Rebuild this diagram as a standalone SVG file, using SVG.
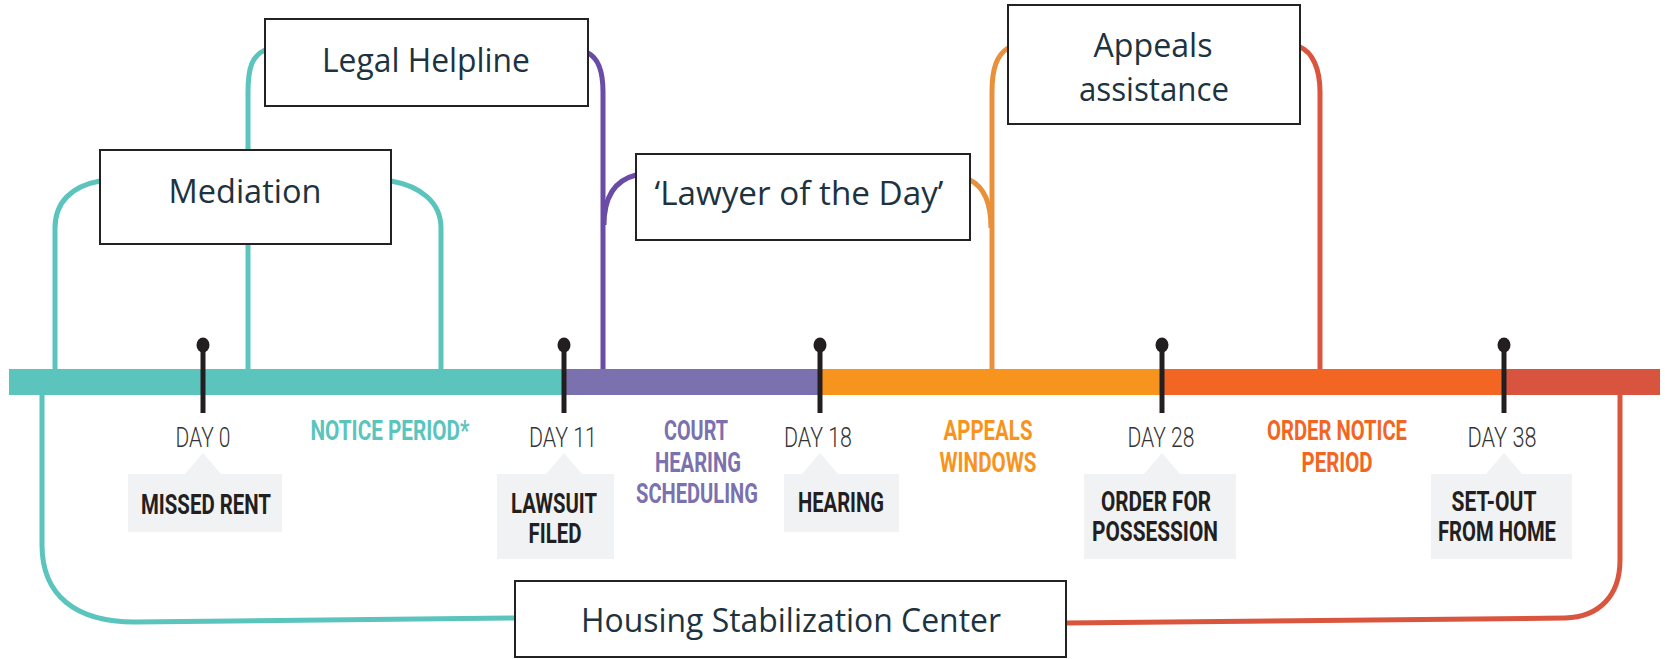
<svg xmlns="http://www.w3.org/2000/svg" width="1665" height="659" viewBox="0 0 1665 659">
<style>
.box{fill:#ffffff;stroke:#222222;stroke-width:2}
.bt{font-family:"Open Sans","Noto Sans",sans-serif;font-size:33px;fill:#1d3340;text-anchor:middle}
.con{fill:none;stroke-width:5;stroke-linecap:butt}
.teal{stroke:#5bc4bc}
.purp{stroke:#6a4ba5}
.oran{stroke:#e8913a}
.red{stroke:#d9553e}
.tick{stroke:#231f20;stroke-width:5}
.pin{fill:#231f20}
.day{font-family:Roboto,"Liberation Sans",sans-serif;font-weight:300;font-size:28px;fill:#333333;text-anchor:middle}
.ev{font-family:Roboto,"Liberation Sans",sans-serif;font-weight:700;font-size:27px;fill:#231f20;text-anchor:middle}
.per{font-family:Roboto,"Liberation Sans",sans-serif;font-weight:700;font-size:27px;text-anchor:middle}
.call{fill:#f1f2f4}
</style>

<g id="connectors">
  <path class="con teal" d="M100,181 C72,186 55,202 55,228 V369"/>
  <path class="con teal" d="M391,181 C420,186 441,202 441,228 V369"/>
  <path class="con teal" d="M248,369 V92 C248,68 252,56 265,50"/>
  <path class="con purp" d="M588,53 C598,58 603,72 603,92 V369"/>
  <path class="con purp" d="M636,175 C616,180 604,195 604,225"/>
  <path class="con oran" d="M992,369 V92 C992,68 997,55 1008,48"/>
  <path class="con oran" d="M970,180 C982,186 991,200 991,228"/>
  <path class="con red" d="M1300,47 C1312,52 1320,68 1320,92 V369"/>
  <path class="con teal" d="M42,395 V545 C42,595 75,622 135,622 L514,618"/>
  <path class="con red" d="M1066,623 L1565,618 C1600,617 1620,595 1620,560 V395"/>
</g>

<g id="timeline">
  <rect x="9" y="369" width="555" height="26" fill="#5bc5bd"/>
  <rect x="564" y="369" width="256" height="26" fill="#7a71ae"/>
  <rect x="820" y="369" width="342" height="26" fill="#f7941d"/>
  <rect x="1162" y="369" width="342" height="26" fill="#f26522"/>
  <rect x="1504" y="369" width="156" height="26" fill="#d9543e"/>
</g>

<g id="ticks">
  <line class="tick" x1="203" y1="345" x2="203" y2="413"/><ellipse class="pin" cx="203" cy="345" rx="6.5" ry="7.5"/>
  <line class="tick" x1="564" y1="345" x2="564" y2="413"/><ellipse class="pin" cx="564" cy="345" rx="6.5" ry="7.5"/>
  <line class="tick" x1="820" y1="345" x2="820" y2="413"/><ellipse class="pin" cx="820" cy="345" rx="6.5" ry="7.5"/>
  <line class="tick" x1="1162" y1="345" x2="1162" y2="413"/><ellipse class="pin" cx="1162" cy="345" rx="6.5" ry="7.5"/>
  <line class="tick" x1="1504" y1="345" x2="1504" y2="413"/><ellipse class="pin" cx="1504" cy="345" rx="6.5" ry="7.5"/>
  <text class="day" x="203" y="447" textLength="55" lengthAdjust="spacingAndGlyphs">DAY 0</text>
  <text class="day" x="563" y="447" textLength="68" lengthAdjust="spacingAndGlyphs">DAY 11</text>
  <text class="day" x="818" y="447" textLength="68" lengthAdjust="spacingAndGlyphs">DAY 18</text>
  <text class="day" x="1161" y="447" textLength="67" lengthAdjust="spacingAndGlyphs">DAY 28</text>
  <text class="day" x="1502" y="447" textLength="69" lengthAdjust="spacingAndGlyphs">DAY 38</text>
</g>

<g id="periods">
  <text class="per" fill="#5bc4bc" x="390" y="440" textLength="159" lengthAdjust="spacingAndGlyphs">NOTICE PERIOD*</text>
  <text class="per" fill="#7a71ae" x="696" y="440" textLength="64" lengthAdjust="spacingAndGlyphs">COURT</text>
  <text class="per" fill="#7a71ae" x="698" y="472" textLength="86" lengthAdjust="spacingAndGlyphs">HEARING</text>
  <text class="per" fill="#7a71ae" x="697" y="503" textLength="122" lengthAdjust="spacingAndGlyphs">SCHEDULING</text>
  <text class="per" fill="#f7941d" x="988" y="440" textLength="89" lengthAdjust="spacingAndGlyphs">APPEALS</text>
  <text class="per" fill="#f7941d" x="988" y="472" textLength="97" lengthAdjust="spacingAndGlyphs">WINDOWS</text>
  <text class="per" fill="#f26522" x="1337" y="440" textLength="140" lengthAdjust="spacingAndGlyphs">ORDER NOTICE</text>
  <text class="per" fill="#f26522" x="1337" y="472" textLength="71" lengthAdjust="spacingAndGlyphs">PERIOD</text>
</g>

<g id="missed-rent">
  <path class="call" d="M128,474 H185 L203,453 L221,474 H282 V532 H128 Z"/>
  <text class="ev" x="206" y="514" textLength="130" lengthAdjust="spacingAndGlyphs">MISSED RENT</text>
</g>
<g id="lawsuit-filed">
  <path class="call" d="M497,474 H546 L564,453 L582,474 H614 V559 H497 Z"/>
  <text class="ev" x="554" y="513" textLength="86" lengthAdjust="spacingAndGlyphs">LAWSUIT</text>
  <text class="ev" x="555" y="543" textLength="53" lengthAdjust="spacingAndGlyphs">FILED</text>
</g>
<g id="hearing">
  <path class="call" d="M784,474 H802 L820,453 L838,474 H899 V532 H784 Z"/>
  <text class="ev" x="841" y="512" textLength="86" lengthAdjust="spacingAndGlyphs">HEARING</text>
</g>
<g id="order-for-possession">
  <path class="call" d="M1084,474 H1144 L1162,453 L1180,474 H1236 V559 H1084 Z"/>
  <text class="ev" x="1156" y="511" textLength="110" lengthAdjust="spacingAndGlyphs">ORDER FOR</text>
  <text class="ev" x="1155" y="541" textLength="126" lengthAdjust="spacingAndGlyphs">POSSESSION</text>
</g>
<g id="set-out">
  <path class="call" d="M1431,474 H1486 L1504,453 L1522,474 H1572 V559 H1431 Z"/>
  <text class="ev" x="1494" y="511" textLength="85" lengthAdjust="spacingAndGlyphs">SET-OUT</text>
  <text class="ev" x="1497" y="541" textLength="118" lengthAdjust="spacingAndGlyphs">FROM HOME</text>
</g>

<g id="legal-helpline">
  <rect class="box" x="265" y="19" width="323" height="87"/>
  <text class="bt" x="426" y="72" textLength="208" lengthAdjust="spacingAndGlyphs">Legal Helpline</text>
</g>
<g id="mediation">
  <rect class="box" x="100" y="150" width="291" height="94"/>
  <text class="bt" x="245" y="203" textLength="153" lengthAdjust="spacingAndGlyphs">Mediation</text>
</g>
<g id="lawyer-of-the-day">
  <rect class="box" x="636" y="154" width="334" height="86"/>
  <text class="bt" x="799" y="205" textLength="289" lengthAdjust="spacingAndGlyphs">‘Lawyer of the Day’</text>
</g>
<g id="appeals-assistance">
  <rect class="box" x="1008" y="5" width="292" height="119"/>
  <text class="bt" x="1153" y="57" textLength="119" lengthAdjust="spacingAndGlyphs">Appeals</text>
  <text class="bt" x="1154" y="101" textLength="150" lengthAdjust="spacingAndGlyphs">assistance</text>
</g>
<g id="housing-stabilization-center">
  <rect class="box" x="515" y="581" width="551" height="76"/>
  <text class="bt" x="791" y="632" textLength="420" lengthAdjust="spacingAndGlyphs">Housing Stabilization Center</text>
</g>
</svg>
